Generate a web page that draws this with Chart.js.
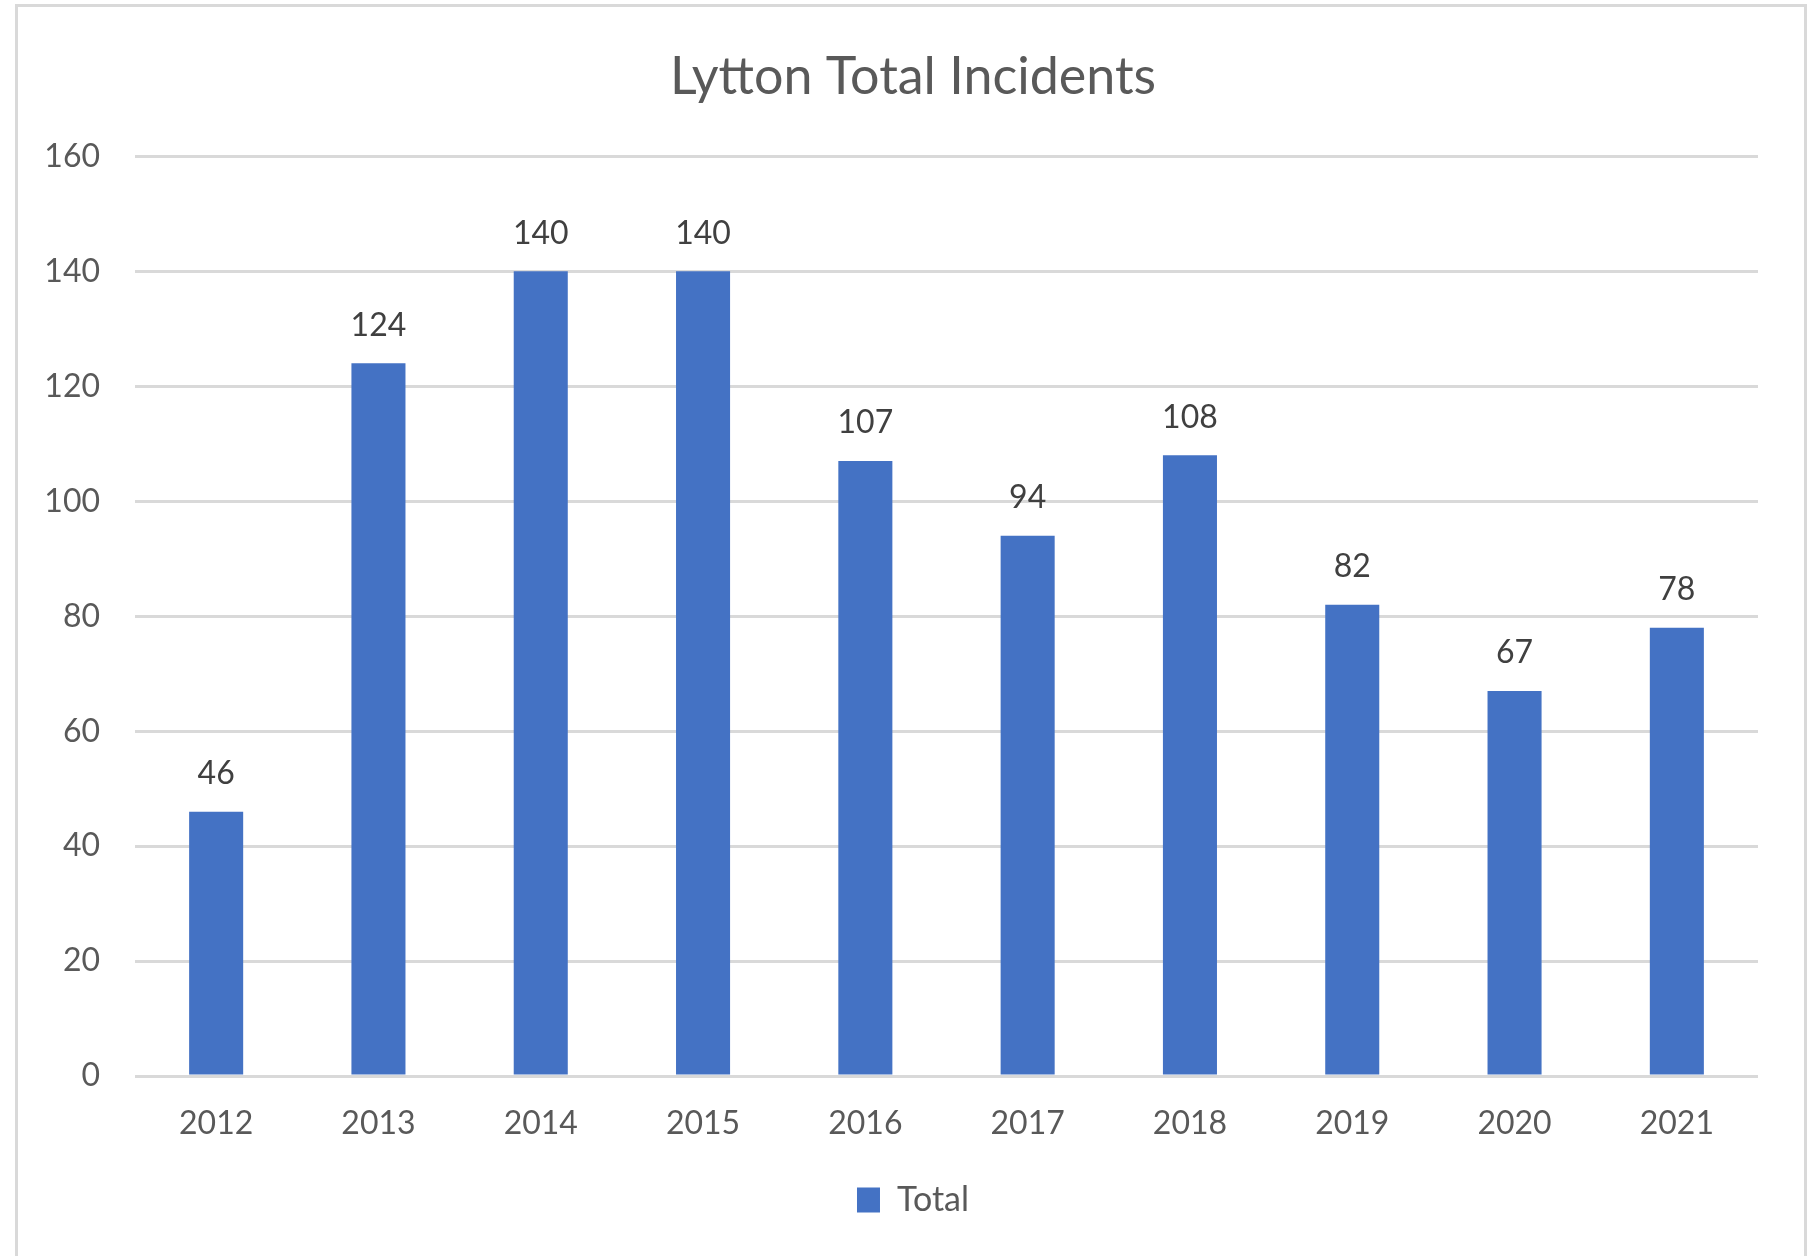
<!DOCTYPE html>
<html>
<head>
<meta charset="utf-8">
<script src="https://cdn.jsdelivr.net/npm/chart.js@4"></script>
<style>
    html, body { margin: 0; padding: 0; background: #fff; }
    #frame {
        position: absolute; left: 15px; top: 4px;
        width: 1786px; height: 1250px;
        border: 3px solid #d9d9d9;
    }
    #wrap { position: absolute; left: 0; top: 0; width: 1811px; height: 1256px; }
</style>
</head>
<body>
<div id="frame"></div>
<div id="wrap"><canvas id="incidentChart" width="1811" height="1256"></canvas></div>
<script>
// values
var years = ["2012", "2013", "2014", "2015", "2016", "2017", "2018", "2019", "2020", "2021"];
var totals = [46, 124, 140, 140, 107, 94, 108, 82, 67, 78];
var yMin = 0;
var yMax = 160;
var yStep = 20;

var FONT = "Lato, 'Open Sans', sans-serif";

// draws the number above each bar
var barValues = {
    id: 'barValues',
    afterDatasetsDraw: function (chart) {
        var ctx = chart.ctx;
        var meta = chart.getDatasetMeta(0);
        ctx.save();
        ctx.font = "32px " + FONT;
        ctx.fillStyle = "#404040";
        ctx.textAlign = "center";
        ctx.textBaseline = "middle";
        meta.data.forEach(function (bar, i) {
            ctx.fillText(String(totals[i]), bar.x, bar.y - 38);
        });
        ctx.restore();
    }
};

new Chart(document.getElementById("incidentChart"), {
    type: 'bar',
    data: {
        labels: years,
        datasets: [{
            label: 'Total',
            data: totals,
            backgroundColor: "#4472C4",
            borderWidth: 0,
            categoryPercentage: 1,
            barPercentage: 0.333
        }]
    },
    options: {
        responsive: false,
        animation: false,
        devicePixelRatio: 1,
        layout: {
            padding: { left: 15, right: 0, top: 0, bottom: 29 }
        },
        plugins: {
            title: {
                display: true,
                text: 'Lytton Total Incidents',
                color: "#595959",
                font: { family: FONT, size: 52, weight: 'normal' },
                padding: { top: 46, bottom: 48 }
            },
            legend: {
                position: 'bottom',
                labels: {
                    color: "#595959",
                    font: { family: FONT, size: 34 },
                    boxWidth: 23,
                    boxHeight: 25,
                    padding: 20.5
                }
            },
            tooltip: { enabled: false }
        },
        scales: {
            x: {
                grid: { display: false },
                border: { display: false },
                ticks: {
                    color: "#595959",
                    font: { family: FONT, size: 32 },
                    padding: 20
                }
            },
            y: {
                min: yMin,
                max: yMax,
                ticks: {
                    stepSize: yStep,
                    color: "#595959",
                    font: { family: FONT, size: 32 },
                    padding: 35
                },
                grid: { color: "#d9d9d9", lineWidth: 3, drawTicks: false },
                border: { display: false },
                afterFit: function (scale) { scale.width = 120; }
            },
            // empty right axis, only keeps space at the right of the plot
            yRight: {
                position: 'right',
                min: yMin,
                max: yMax,
                ticks: { display: false },
                grid: { display: false, drawTicks: false },
                border: { display: false },
                afterFit: function (scale) { scale.width = 53; }
            }
        }
    },
    plugins: [barValues]
});
</script>
</body>
</html>
